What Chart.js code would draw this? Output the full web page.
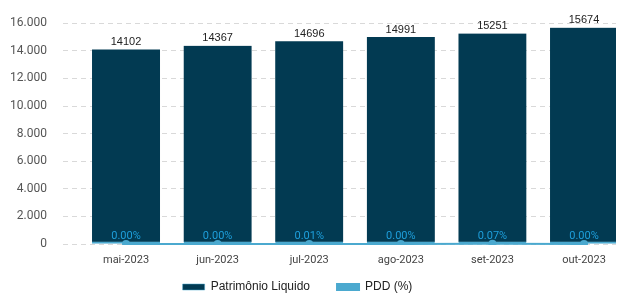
<!DOCTYPE html>
<html>
<head>
<meta charset="utf-8">
<script src="https://cdn.jsdelivr.net/npm/chart.js@4.4.0/dist/chart.umd.min.js"></script>
<style>
html,body{margin:0;padding:0;background:#fff;overflow:hidden;}
#wrap{width:621px;height:293px;position:relative;}
</style>
</head>
<body>
<div id="wrap"><canvas id="c"></canvas></div>
<script>
const categories = ["mai-2023","jun-2023","jul-2023","ago-2023","set-2023","out-2023"];
const patrimonioLiquido = [14102,14367,14696,14991,15251,15674];
const pddPercent = [0.00,0.00,0.01,0.00,0.07,0.00];
const yTicks = [0,2000,4000,6000,8000,10000,12000,14000,16000];

const barColor = '#023a52';
const lineColor = '#4ba9cf';
const pctColor = '#1e9fdc';

function fmtThousands(v){
  return String(v).replace(/\B(?=(\d{3})+(?!\d))/g,'.');
}

const labelPlugin = {
  id:'valueLabels',
  afterDatasetsDraw(chart){
    const ctx = chart.ctx;
    ctx.save();
    const barMeta = chart.getDatasetMeta(0);
    ctx.font = '11px "Liberation Sans", Arial, sans-serif';
    ctx.fillStyle = '#222';
    ctx.textAlign = 'center';
    ctx.textBaseline = 'bottom';
    barMeta.data.forEach((el,i)=>{
      ctx.fillText(String(patrimonioLiquido[i]), el.x, el.y - 2);
    });
    const lineMeta = chart.getDatasetMeta(1);
    ctx.font = '11px Roboto, "Liberation Sans", sans-serif';
    ctx.fillStyle = pctColor;
    ctx.textBaseline = 'middle';
    lineMeta.data.forEach((el,i)=>{
      ctx.fillText(pddPercent[i].toFixed(2)+'%', el.x, el.y - 8);
    });
    ctx.restore();
  }
};

const LEGEND_H = 25;
const legendTweak = {
  id:'legendTweak',
  beforeLayout(chart){
    const lg = chart.legend;
    if(lg && !lg._patched){
      const orig = lg.fit.bind(lg);
      lg.fit = function(){ orig(); this.height = LEGEND_H; };
      lg._patched = true;
    }
  },
  afterLayout(chart){
    const lg = chart.legend;
    if(lg){ lg.left -= 13; lg.right -= 13; lg.top -= 14; lg.bottom = chart.height; }
  }
};

new Chart(document.getElementById('c'), {
  data:{
    datasets:[
      {
        type:'bar',
        label:'Patrimônio Liquido',
        data: patrimonioLiquido.map((v,i)=>({x:i,y:v})),
        backgroundColor: barColor,
        borderColor: lineColor,
        borderWidth: {top:0,left:0,right:0,bottom:2},
        borderSkipped: false,
        barThickness: 68,
        yAxisID:'y',
        order:1
      },
      {
        type:'line',
        label:'PDD (%)',
        data: pddPercent.map((v,i)=>({x:i,y:v})),
        borderColor: lineColor,
        backgroundColor: lineColor,
        borderWidth: 2,
        pointRadius: 3,
        pointHoverRadius: 3,
        clip: {left:false, right:false, top:false, bottom:1},
        yAxisID:'y2',
        order:0
      }
    ]
  },
  options:{
    responsive:true,
    maintainAspectRatio:false,
    animation:false,
    layout:{padding:{top:12,left:0,right:0,bottom:0}},
    plugins:{
      tooltip:{enabled:false},
      legend:{
        position:'bottom',
        labels:{
          boxWidth:22, boxHeight:6, padding:27,
          color:'#222',
          sort:(a,b)=>a.datasetIndex-b.datasetIndex,
          font:{family:'"Liberation Sans", Arial, sans-serif', size:12}
        }
      }
    },
    scales:{
      x:{
        type:'linear',
        offset:false,
        min:-0.688, max:5.349,
        afterFit(s){ s.height = 24; },
        grid:{display:false, drawTicks:false},
        border:{display:false},
        ticks:{
          stepSize:1, includeBounds:false, autoSkip:false, maxRotation:0,
          padding:10,
          color:'#444',
          font:{family:'Roboto, "Liberation Sans", sans-serif', size:11},
          callback:(v)=> Number.isInteger(v) && categories[v] ? categories[v] : ''
        }
      },
      y:{
        min:0, max:16000,
        afterFit(s){ s.width = 63; },
        afterBuildTicks(s){ s.ticks = yTicks.map(v=>({value:v})); },
        grid:{color:'#d9d9d9', drawTicks:false, lineWidth:1},
        border:{display:false, dash:[5,4]},
        ticks:{
          padding:16,
          color:'#555',
          font:{family:'Roboto, "Liberation Sans", sans-serif', size:12},
          callback:(v)=> fmtThousands(v)
        }
      },
      y2:{
        display:false,
        min:0, max:100
      }
    }
  },
  plugins:[labelPlugin, legendTweak]
});
</script>
</body>
</html>
